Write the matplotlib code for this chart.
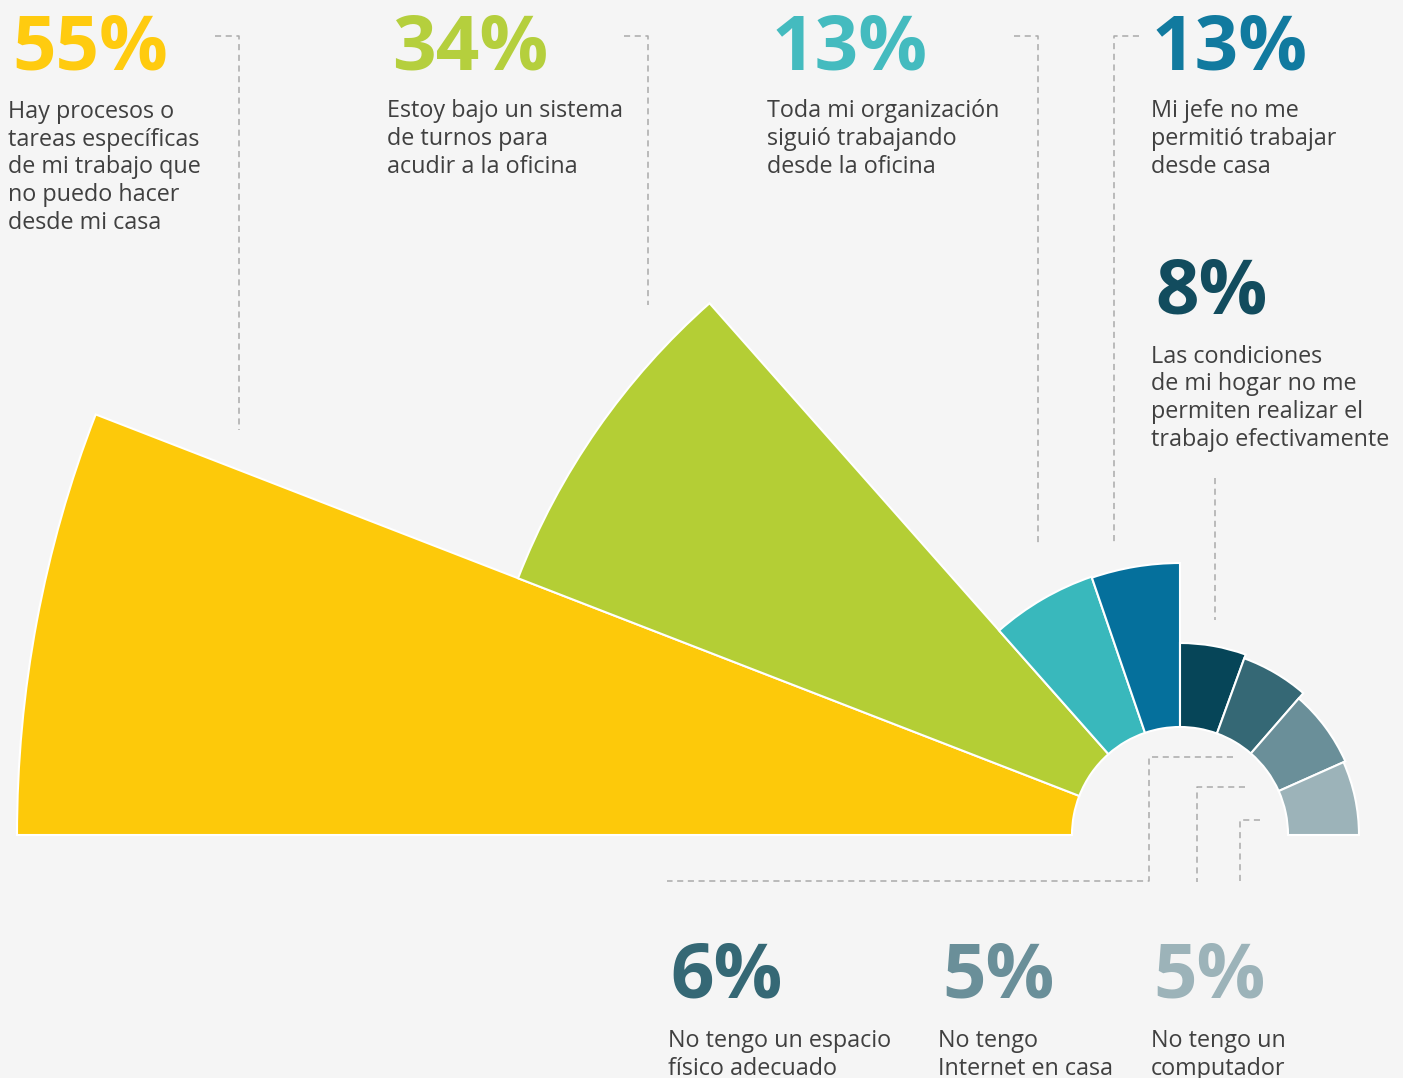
import matplotlib.pyplot as plt
import numpy as np

plt.rcParams['font.family'] = ['Open Sans', 'DejaVu Sans']

# datos
porcentajes = [55, 34, 13, 13, 8, 6, 5, 5]
textos = [
    "Hay procesos o\ntareas específicas\nde mi trabajo que\nno puedo hacer\ndesde mi casa",
    "Estoy bajo un sistema\nde turnos para\nacudir a la oficina",
    "Toda mi organización\nsiguió trabajando\ndesde la oficina",
    "Mi jefe no me\npermitió trabajar\ndesde casa",
    "Las condiciones\nde mi hogar no me\npermiten realizar el\ntrabajo efectivamente",
    "No tengo un espacio\nfísico adecuado",
    "No tengo\nInternet en casa",
    "No tengo un\ncomputador",
]
# largo radial de cada sector
largo = [1163, 710, 273, 272, 192, 188, 181, 179]

# estilo
colores = ['#FDC90A', '#B4CE35', '#39B8BC', '#05709C',
           '#064558', '#356875', '#6A8F99', '#9CB3B9']
col_pct = ['#FFCB0F', '#B5CF3D', '#44BBBF', '#117A9F',
           '#124C5E', '#356875', '#6A8F99', '#9CB3B9']
fondo = '#F5F5F5'
gris_txt = '#404040'

# limites angulares de cada sector en grados
limites = [180, 158.8, 131.5, 108.9, 90, 70, 49, 24, 0]
r_hueco = 108
r_max = 1175
W, H = 1403, 1078
cx, cy = 1180, 835

fig = plt.figure(figsize=(W / 100, H / 100), dpi=100, facecolor=fondo)

# sectores en ejes polares
ax = fig.add_axes([(cx - r_max) / W, (H - cy - r_max) / H, 2 * r_max / W, 2 * r_max / H],
                  projection='polar')
ax.patch.set_visible(False)
ini = np.radians(limites[:-1])
fin = np.radians(limites[1:])
theta = (ini + fin) / 2
ancho = np.abs(ini - fin)
ax.bar(theta, np.array(largo) - r_hueco, width=ancho, bottom=r_hueco,
       color=colores, edgecolor='white', linewidth=1.5)
ax.set_ylim(0, r_max)
ax.set_axis_off()

# capa de textos y guias
ov = fig.add_axes([0, 0, 1, 1])
ov.set_xlim(0, W)
ov.set_ylim(H, 0)
ov.set_axis_off()
ov.patch.set_visible(False)

pos_pct = [(12, 70), (392, 70), (772, 70), (1152, 70), (1155, 314),
           (670, 998), (942, 998), (1153, 998)]
# (x, linea base de la primera linea)
pos_txt = [(8, 117), (387, 117), (767, 117), (1151, 117), (1151, 362),
           (668, 1047), (938, 1047), (1151, 1047)]
paso = 28  # px entre lineas

for i in range(len(porcentajes)):
    x, y = pos_pct[i]
    ov.text(x, y, f"{porcentajes[i]}%", color=col_pct[i], fontsize=55,
            fontweight='bold', va='baseline', ha='left')
    x, y = pos_txt[i]
    n = textos[i].count("\n")
    ov.text(x, y + n * paso, textos[i], color=gris_txt, fontsize=16.8,
            va='baseline', ha='left', linespacing=1.21)

guias = [
    [(215, 36), (239, 36), (239, 430)],
    [(624, 36), (648, 36), (648, 305)],
    [(1014, 36), (1038, 36), (1038, 543)],
    [(1139, 36), (1114, 36), (1114, 543)],
    [(1215, 478), (1215, 620)],
    [(1233, 757), (1149, 757), (1149, 881), (667, 881)],
    [(1245, 787), (1197, 787), (1197, 882)],
    [(1260, 820), (1240, 820), (1240, 882)],
]
for g in guias:
    xs = [p[0] for p in g]
    ys = [p[1] for p in g]
    ov.plot(xs, ys, color='#AAAAAA', lw=1.1, linestyle=(0, (4, 3)))

fig.savefig('out.png', dpi=100, facecolor=fondo)
